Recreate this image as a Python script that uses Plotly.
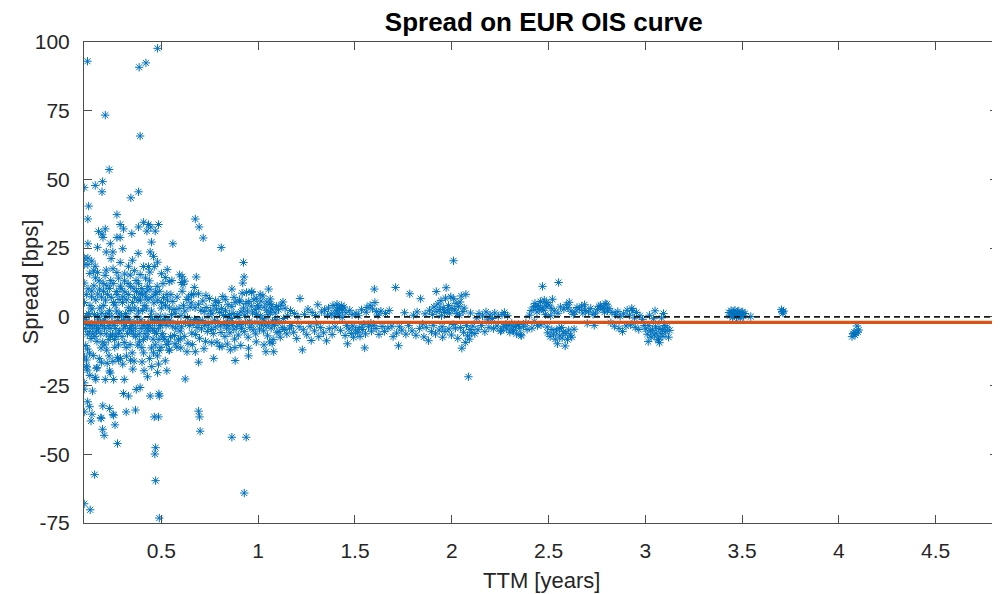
import plotly.graph_objects as go

# ---------------- data (ttm in years, spread in bps) ----------------
outliers_upper = [
    (0.48, 97.7), (0.118, 93.0), (0.385, 90.8), (0.42, 92.4), (0.21, 73.4), (0.39, 65.8),
    (0.23, 53.6), (0.196, 49.2), (0.158, 47.8), (0.101, 47.0), (0.193, 45.5), (0.382, 45.5),
    (0.342, 43.3), (0.124, 40.3), (0.12, 35.6), (0.27, 37.2), (0.287, 33.6), (0.304, 32.0),
    (0.408, 34.4), (0.382, 32.7), (0.433, 33.6), (0.445, 32.7), (0.485, 33.6), (0.175, 31.1),
    (0.21, 32.0), (0.193, 30.1), (0.198, 28.9), (0.27, 28.9), (0.287, 28.9), (0.347, 30.3),
    (0.425, 31.2), (0.468, 31.2), (0.449, 27.2), (0.236, 26.6), (0.12, 26.6), (0.215, 23.6),
    (0.249, 23.6), (0.442, 23.6), (0.459, 22.0), (0.101, 21.4), (0.12, 21.4), (0.101, 19.0),
    (0.12, 19.0), (0.287, 19.8), (0.158, 18.4), (0.33, 18.4), (0.15, 16.7), (0.215, 17.0),
    (0.408, 18.3), (0.433, 18.3), (0.463, 18.3), (0.13, 15.8), (0.17, 16.2), (0.25, 17.5),
    (0.27, 16.1), (0.31, 15.6), (0.36, 16.8), (0.39, 15.4), (0.44, 16.3), (0.5, 15.7),
    (0.53, 17.2), (0.14, 20.3), (0.24, 21.2), (0.35, 20.6), (0.48, 19.9), (0.52, 14.3),
    (0.38, 23.1), (0.3, 24.8), (0.17, 25.3), (0.54, 12.8),
]

outliers_lower = [
    (0.101, -24.0), (0.101, -26.3), (0.144, -27.0), (0.119, -30.9), (0.129, -32.7), (0.101, -34.6),
    (0.141, -35.4), (0.187, -36.7), (0.197, -32.4), (0.232, -33.3), (0.25, -35.5), (0.304, -27.9),
    (0.33, -28.8), (0.318, -34.6), (0.366, -33.9), (0.37, -26.4), (0.39, -25.7), (0.442, -28.8),
    (0.487, -28.0), (0.489, -28.8), (0.463, -36.4), (0.485, -36.4), (0.428, -21.8), (0.528, -19.6),
    (0.48, -20.3), (0.352, -19.0), (0.308, -22.8), (0.253, -22.8), (0.21, -22.8), (0.158, -22.0),
    (0.161, -22.8), (0.115, -18.2), (0.117, -19.4), (0.113, -15.7), (0.164, -18.7), (0.168, -18.5),
    (0.232, -19.7), (0.236, -20.4), (0.485, -17.2), (0.52, -16.0), (0.273, -14.7), (0.278, -15.7),
    (0.136, -37.9), (0.189, -36.9), (0.253, -35.8), (0.196, -40.9), (0.204, -43.1), (0.26, -39.3),
    (0.273, -46.1), (0.47, -47.6), (0.466, -49.9), (0.155, -57.4), (0.47, -59.6), (0.101, -68.0),
    (0.132, -70.2), (0.489, -73.2), (0.19, -16.5), (0.3, -17.2), (0.4, -16.4), (0.45, -18.1),
    (0.34, -15.8), (0.22, -16.9), (0.13, -21.3), (0.41, -19.6),
]

core_short = [
    (0.101, 12.3), (0.103, 5.2), (0.106, -0.9), (0.107, -4.2), (0.109, -10.4), (0.102, -14.6),
    (0.112, 8.1), (0.114, 0.4), (0.116, -2.8), (0.117, -6.3), (0.118, -11.7), (0.111, -17.9),
    (0.121, 10.2), (0.124, 1.2), (0.126, -2.1), (0.127, -5.4), (0.129, -13.2),
    (0.131, 4.1), (0.135, -3.2), (0.136, -7.9), (0.139, 7.3),
    (0.141, 9.4), (0.142, 2.9), (0.145, -4.1), (0.147, -6.2), (0.148, -14.1),
    (0.151, 11.3), (0.154, 0.8), (0.155, -2.3), (0.157, -7.1), (0.159, 14.2),
    (0.161, 6.2), (0.164, -3.3), (0.165, -5.2), (0.167, -8.9), (0.169, 0.3),
    (0.171, 8.3), (0.174, -1.1), (0.175, -4.3), (0.178, 13.1), (0.179, -15.2),
    (0.181, 10.1), (0.182, 3.2), (0.185, -2.2), (0.187, -6.1), (0.188, -11.3),
    (0.191, 7.2), (0.192, 1.3), (0.194, -3.1), (0.197, -9.2), (0.199, 12.2),
    (0.201, 9.3), (0.202, 4.1), (0.205, -1.2), (0.206, -4.1), (0.208, -10.2), (0.209, 15.1),
    (0.211, 6.1), (0.212, 0.2), (0.215, -6.2), (0.217, -12.1), (0.218, 11.3),
    (0.221, 8.2), (0.224, 1.1), (0.225, -3.2), (0.228, -8.3), (0.229, -14.2),
    (0.231, 10.3), (0.232, 2.2), (0.235, -4.2), (0.237, -7.1), (0.238, 13.2),
    (0.241, 7.1), (0.244, 0.2), (0.245, -2.1), (0.247, -6.3), (0.249, -16.2),
    (0.251, 12.1), (0.252, 5.2), (0.255, -3.1), (0.258, -8.2), (0.259, -11.1),
    (0.261, 4.3), (0.264, -4.2), (0.265, -7.1), (0.267, 9.2), (0.269, 2.1),
    (0.271, 8.1), (0.274, -1.3), (0.277, -6.1), (0.278, -10.2), (0.279, 14.1),
    (0.281, 6.3), (0.282, 1.1), (0.285, -5.1), (0.288, 11.2), (0.289, -15.1),
    (0.291, 10.2), (0.294, 0.3), (0.295, -2.1), (0.297, -7.2), (0.299, 5.2),
    (0.301, 7.3), (0.304, -1.2), (0.305, -4.1), (0.308, -9.3), (0.309, 13.1),
    (0.311, 9.1), (0.314, 1.2), (0.315, -3.1), (0.318, -11.1), (0.319, -14.3),
    (0.321, 6.2), (0.322, 0.1), (0.325, -6.1), (0.328, 12.1), (0.329, 3.3),
]

core_mid = [
    (0.331, 8.1), (0.334, -1.1), (0.335, -4.3), (0.338, -10.1), (0.339, 15.2),
    (0.341, 11.1), (0.342, 2.3), (0.345, -3.2), (0.347, -5.1), (0.349, -13.1),
    (0.351, 5.2), (0.354, -2.1), (0.355, -6.3), (0.358, 10.2), (0.359, -16.1),
    (0.361, 7.1), (0.362, 3.2), (0.365, -4.1), (0.367, -7.2), (0.369, 13.2),
    (0.371, 9.2), (0.374, 0.2), (0.375, -2.1), (0.378, -10.3), (0.379, 6.1),
    (0.381, 12.2), (0.382, 2.1), (0.385, -6.2), (0.387, -9.1), (0.389, 8.3),
    (0.391, 6.1), (0.394, -1.1), (0.395, -4.2), (0.398, 10.3), (0.399, -11.2),
    (0.401, 8.2), (0.403, 2.3), (0.405, -3.2), (0.407, -8.2), (0.408, -13.1),
    (0.411, 4.1), (0.414, -2.3), (0.415, -6.1), (0.418, 14.1), (0.419, 7.2),
    (0.421, 9.1), (0.422, 3.2), (0.425, -4.1), (0.427, -7.3), (0.429, 11.1),
    (0.431, 6.2), (0.434, -3.2), (0.435, -5.1), (0.438, 13.1), (0.439, -15.2),
    (0.441, 10.1), (0.444, 0.1), (0.445, -2.2), (0.448, -11.3), (0.449, 2.1),
    (0.451, 7.2), (0.454, -1.1), (0.455, -4.3), (0.457, -8.1), (0.459, -13.1),
    (0.461, 5.1), (0.464, -2.1), (0.465, -5.2), (0.468, -10.2), (0.469, 9.1),
    (0.471, 8.2), (0.472, 0.1), (0.475, -6.1), (0.478, 11.1), (0.479, -14.2),
    (0.481, 6.1), (0.484, -1.3), (0.485, -4.1), (0.487, -8.2), (0.489, -12.2),
    (0.491, 9.3), (0.494, 0.2), (0.495, -3.1), (0.498, -11.1), (0.499, 3.2),
    (0.501, 5.2), (0.504, -2.2), (0.505, -6.1), (0.508, 12.1), (0.509, -7.3),
    (0.511, 7.1), (0.514, -1.1), (0.517, -8.1), (0.519, 0.1),
    (0.521, 4.2), (0.524, -3.1), (0.527, -10.1), (0.528, 8.2),
    (0.531, 6.1), (0.534, -2.1), (0.537, -9.1), (0.539, -12.1),
    (0.541, 3.2), (0.544, -1.2), (0.547, -7.2), (0.549, 8.1),
]

band_one_year = [
    (0.552, 0.8), (0.556, -3.4), (0.559, 5.6), (0.565, 2.7), (0.568, -6.8),
    (0.571, 1.3), (0.574, -4.1), (0.581, 7.2), (0.584, -2.3), (0.588, -8.4),
    (0.591, 3.1), (0.597, -5.2), (0.601, 0.4), (0.604, -3.6), (0.607, 9.3),
    (0.614, 4.2), (0.618, -7.1), (0.621, 2.1), (0.624, -2.2),
    (0.631, 6.3), (0.634, -0.3), (0.637, -9.6), (0.644, -3.2), (0.648, 3.5),
    (0.651, -1.8), (0.654, 5.1), (0.657, -5.9), (0.664, -2.6), (0.667, 8.2),
    (0.671, -0.9), (0.674, 3.3), (0.677, -6.4), (0.684, -3.9), (0.688, -1.1),
    (0.691, 4.6), (0.694, -2.4), (0.697, -7.8), (0.704, 2.4), (0.707, -4.4),
    (0.711, -1.3), (0.714, 5.8), (0.721, 1.9), (0.724, -3.1), (0.728, -8.9),
    (0.731, 3.4), (0.737, -5.3), (0.741, 0.1), (0.744, -2.9), (0.748, 6.7),
    (0.754, 2.2), (0.758, -4.6), (0.761, 1.1), (0.768, -6.1),
    (0.771, 4.1), (0.774, -1.2), (0.778, -3.7), (0.784, 2.8), (0.787, -9.2),
    (0.791, -1.9), (0.794, 5.2), (0.801, 1.6), (0.804, -3.3), (0.808, -5.7),
    (0.811, 3.1), (0.817, 7.4), (0.821, 0.5), (0.824, -2.7), (0.828, -7.2),
    (0.831, 2.2), (0.837, -4.1), (0.841, -1.5), (0.844, 4.4), (0.848, -3.2),
    (0.851, 0.9), (0.854, -5.8), (0.861, -0.6), (0.864, 3.7), (0.867, -2.4),
    (0.871, 1.2), (0.874, -4.5), (0.878, -8.1), (0.881, 5.3), (0.887, -3.6),
    (0.891, 0.7), (0.897, -6.6), (0.901, -0.2), (0.904, 6.1), (0.907, -2.8),
    (0.911, 1.8), (0.914, -4.2), (0.917, 8.6), (0.924, 3.2), (0.928, -5.4),
    (0.931, 0.6), (0.934, -2.2), (0.937, 4.9), (0.944, 2.1), (0.948, -7.4),
    (0.951, 5.6), (0.954, -1.6), (0.957, -3.8), (0.964, 3.9), (0.967, -2.5),
    (0.971, 1.4), (0.974, -4.7), (0.978, 6.2), (0.984, 2.6), (0.987, -6.2),
    (0.991, 0.9), (0.994, -2.1), (0.997, 4.1), (1.004, 3.3), (1.007, -4.4),
    (1.011, 0.4), (1.014, 5.7), (1.018, -2.9), (1.024, -0.7), (1.028, -5.1),
    (1.031, 3.6), (1.034, -1.8), (1.041, -3.3), (1.044, 2.4), (1.048, -6.9),
    (1.051, 0.8), (1.054, -2.4), (1.057, 4.6), (1.064, 1.7), (1.067, -4.1),
    (1.071, 2.9), (1.074, -1.6), (1.077, -8.2), (1.084, -3.1), (1.088, 1.4),
    (1.091, -1.1), (1.094, 3.8), (1.097, -5.6),
]

scatter_one_year = [
    (0.675, 35.6), (0.695, 32.7), (0.716, 28.7), (0.809, 25.2), (0.924, 19.8), (0.927, 14.5),
    (0.92, 12.3), (0.68, 14.5), (0.554, 13.2), (0.594, 15.3), (0.62, 13.0), (0.67, 10.7),
    (0.692, 8.4), (0.864, 10.1), (0.967, 9.2), (1.054, 10.1), (1.024, 7.6), (1.062, 6.5),
    (0.559, 26.6), (0.542, -12.1), (0.623, -22.6), (0.632, -12.7), (0.675, -12.7), (0.692, -16.5),
    (0.77, -15.1), (0.881, -15.9), (0.95, -14.2), (0.95, -11.4), (1.04, -12.7), (1.08, -12.7),
    (1.072, -9.6), (0.692, -34.3), (0.697, -36.4), (0.70, -41.6), (0.864, -43.8), (0.938, -43.8),
    (0.928, -64.1), (0.597, -8.0), (0.58, -11.0), (0.603, 12.5), (0.607, 14.6), (0.612, 11.8),
    (0.64, 7.2), (0.655, 8.1), (0.73, 7.8), (0.78, 5.9), (0.83, 6.4), (0.875, 7.1), (0.905, 5.5),
    (0.99, 6.8), (1.01, 8.2), (1.045, 5.4), (0.57, -9.8), (0.6, -11.3), (0.66, -10.1),
    (0.72, -11.6), (0.76, -9.4), (0.8, -10.7), (0.84, -9.9), (0.91, -10.4), (0.99, -9.1),
    (1.03, -10.2), (1.06, -9.1), (0.813, -10.8), (0.856, -12.0), (0.88, -11.2), (0.94, 8.9),
    (0.966, 8.9), (1.07, 4.4),
]

band_one_to_two = [
    (1.102, -2.1), (1.105, 2.6), (1.108, -5.3), (1.114, -7.4), (1.117, 4.2),
    (1.124, -3.8), (1.128, 5.4), (1.131, -0.6), (1.135, -4.6), (1.139, 3.1),
    (1.148, -6.2), (1.152, 0.4), (1.162, -4.1), (1.167, 2.3), (1.172, -3.2),
    (1.183, -5.6), (1.188, 1.2), (1.199, -7.9), (1.205, 0.1), (1.211, -3.6), (1.216, 6.7),
    (1.228, -12.0), (1.233, -4.7), (1.239, 0.9), (1.251, -6.5), (1.257, 2.8),
    (1.268, -3.4), (1.274, -8.6), (1.279, 1.6), (1.291, -5.1), (1.296, 0.5),
    (1.302, -2.6), (1.308, 4.4), (1.313, -7.2), (1.323, -3.9), (1.328, 1.8),
    (1.338, -5.8), (1.343, 2.6), (1.353, -8.7), (1.358, 0.6), (1.363, 3.2), (1.367, -4.3),
    (1.377, 1.1), (1.382, -6.4), (1.386, 4.1), (1.393, 0.3), (1.397, -3.7),
    (1.401, 2.2), (1.407, 4.6), (1.410, 1.4), (1.413, 3.3), (1.419, 0.7),
    (1.422, 2.9), (1.425, -4.9), (1.431, 4.1), (1.434, -0.2), (1.437, 2.5),
    (1.443, 3.6), (1.449, -6.8), (1.453, 1.5), (1.457, -3.1), (1.461, -9.8),
    (1.469, -4.4), (1.473, 2.4), (1.481, -6.1), (1.485, 0.8), (1.489, -3.3), (1.493, -7.4),
    (1.502, -4.8), (1.506, 1.3), (1.514, -5.6), (1.518, 0.4), (1.522, -3.9),
    (1.526, -7.1), (1.534, 2.6), (1.538, -4.6), (1.546, -2.7), (1.550, -11.3),
    (1.554, -6.2), (1.558, 1.7), (1.562, 3.4), (1.570, -3.6), (1.578, 4.2),
    (1.582, -2.3), (1.585, -5.2), (1.591, 2.9), (1.597, -3.1), (1.600, 10.1),
    (1.603, 5.2), (1.609, -4.2), (1.612, 1.9), (1.619, 0.6), (1.624, -6.4),
    (1.634, 2.1), (1.640, -3.5), (1.652, -5.3), (1.658, 1.2),
    (1.670, -4.1), (1.677, 2.3), (1.691, -3.4), (1.697, -7.2), (1.710, 10.7),
    (1.715, -5.9), (1.725, -10.5), (1.729, -3.6), (1.742, -4.8),
    (1.756, 1.5), (1.763, -6.3), (1.777, -3.2), (1.783, 8.4), (1.795, -5.1),
    (1.802, 0.6), (1.815, -6.7), (1.821, 1.8), (1.834, -4.2), (1.839, 6.6),
    (1.850, -2.6), (1.856, -7.3), (1.862, 1.1), (1.868, -3.8), (1.880, -8.7),
    (1.885, 2.4), (1.895, -5.4),
]

band_two_years = [
    (1.900, 0.8), (1.904, -3.1), (1.908, 3.6), (1.916, -6.2), (1.920, 9.2), (1.923, 1.9),
    (1.929, 4.7), (1.935, -4.8), (1.938, 2.7), (1.944, 5.9),
    (1.947, 0.4), (1.950, -3.6), (1.953, -7.4), (1.956, 3.3), (1.962, 1.6), (1.965, -5.3),
    (1.968, 6.8), (1.971, 10.6), (1.977, 2.4), (1.983, 4.1), (1.986, -4.4),
    (1.989, 1.3), (1.995, 7.3), (1.998, -6.6), (2.001, 3.1), (2.007, -2.8),
    (2.009, 20.4), (2.010, 6.6), (2.016, 2.5), (2.019, -4.1), (2.022, 4.9),
    (2.028, 1.1), (2.031, -7.8), (2.034, 3.7), (2.040, 0.6), (2.043, 5.4), (2.046, -3.9),
    (2.049, 7.6), (2.052, -11.4), (2.058, 1.9), (2.061, -5.6), (2.064, 3.2),
    (2.070, -9.3), (2.073, 8.2), (2.076, -3.2), (2.082, -6.9), (2.086, -21.8),
    (2.091, -8.1), (2.094, -4.6), (2.097, 1.4), (2.101, -5.8), (2.109, -3.4),
    (2.119, -6.1), (2.129, -0.4), (2.135, -4.7), (2.141, 1.2), (2.153, -3.1),
    (2.159, 0.3), (2.171, -5.4), (2.177, 1.8), (2.186, -1.1), (2.192, -3.8),
    (2.198, 0.7), (2.210, -0.6), (2.216, -4.3), (2.222, 1.4), (2.234, -3.3),
    (2.240, 0.2), (2.252, -5.2), (2.256, -4.9), (2.260, 0.9), (2.268, -3.6),
    (2.272, 1.6), (2.280, -2.7), (2.284, -4.4), (2.288, 0.4), (2.296, -3.1),
    (2.300, -5.6), (2.310, -2.4), (2.315, -4.7), (2.319, -5.1), (2.329, -3.5),
    (2.334, -6.2), (2.345, -2.8), (2.351, -4.1), (2.356, -6.4), (2.359, -6.9),
    (2.371, -3.4), (2.383, -2.2), (2.389, -4.6),
]

band_two_half_years = [
    (2.402, 0.6), (2.410, 2.3), (2.414, -4.1), (2.422, 3.6), (2.426, -1.7),
    (2.430, 4.9), (2.434, 3.7), (2.440, 1.8), (2.443, -3.2), (2.446, 4.2),
    (2.452, 2.7), (2.458, 5.6), (2.461, -2.9), (2.467, 3.2), (2.469, 11.1),
    (2.475, 2.4), (2.478, 6.1), (2.484, 0.8), (2.487, 3.9), (2.490, 5.2),
    (2.493, -3.7), (2.496, -5.8), (2.502, 4.3), (2.508, -7.2), (2.511, 0.4),
    (2.514, 3.1), (2.517, -4.6), (2.520, 6.4), (2.526, -6.3), (2.529, 2.2),
    (2.535, -8.1), (2.541, -5.1), (2.546, -9.8), (2.549, 1.3), (2.552, 12.5),
    (2.555, -4.2), (2.558, -6.9), (2.561, 3.6), (2.567, -3.9), (2.570, -7.7),
    (2.576, -5.4), (2.579, 2.8), (2.586, -10.6), (2.589, -6.1), (2.592, 4.4),
    (2.598, -8.3), (2.601, 3.3), (2.604, -4.8), (2.607, 5.3), (2.613, -6.7), (2.616, 2.1),
    (2.620, -7.4), (2.628, 0.9), (2.632, -4.5), (2.637, 1.7), (2.647, 3.4),
    (2.659, 2.8), (2.671, 3.9), (2.677, 1.4), (2.686, 4.4),
    (2.690, 2.3), (2.700, -2.4), (2.706, 1.8), (2.718, 3.1),
    (2.730, 0.9), (2.736, -3.1), (2.742, 1.4), (2.754, 2.6), (2.760, 3.8),
    (2.769, 4.2), (2.777, 2.9), (2.785, 3.5), (2.789, 1.7), (2.793, 4.8),
    (2.801, 4.6), (2.805, 2.2), (2.813, 3.1), (2.822, -2.1),
    (2.828, 1.6), (2.840, -3.4), (2.846, 0.8),
]

band_three_years = [
    (2.858, 1.9), (2.864, -4.2), (2.870, 0.2), (2.882, -5.3), (2.888, 1.1),
    (2.900, -3.3), (2.906, 2.4), (2.918, 0.6), (2.924, -2.9), (2.930, 3.1),
    (2.936, 2.2), (2.944, -0.4), (2.948, -3.8), (2.954, 1.6), (2.966, -4.6),
    (2.972, 0.4), (2.986, -0.9), (2.994, -3.1), (3.002, -4.4), (3.010, -6.3),
    (3.015, -9.0), (3.018, -3.2), (3.022, 0.6), (3.026, -5.1), (3.030, -7.4), (3.038, -4.8),
    (3.042, -0.7), (3.046, -6.6), (3.050, 2.2), (3.053, -3.6), (3.056, -5.9), (3.064, -8.1),
    (3.068, -8.4), (3.071, -4.2), (3.073, -9.4), (3.080, -6.2), (3.084, -0.4), (3.088, -4.6),
    (3.091, -7.1), (3.094, 1.2), (3.098, -3.1), (3.103, -5.4), (3.112, -3.8), (3.120, -7.4),
    (3.126, -4.9),
]

long_end = [
    (3.432, 1.6), (3.438, 0.4), (3.443, 2.3), (3.447, 1.1), (3.451, -0.3), (3.455, 1.9), (3.459, 0.7),
    (3.463, 2.4), (3.467, 1.3), (3.471, -0.1), (3.475, 1.7), (3.479, 0.5), (3.483, 2.1), (3.487, 1.0),
    (3.491, -0.4), (3.495, 1.5), (3.499, 0.6), (3.503, 1.8), (3.508, 0.2), (3.515, 1.2), (3.545, 0.1),
    (3.703, 2.6), (3.707, 1.9), (3.711, 1.4), (3.714, 2.1),
    (4.068, -7.2), (4.074, -6.1), (4.079, -5.6), (4.083, -6.6), (4.088, -5.9), (4.093, -3.3), (4.098, -5.5),
    (4.102, -4.8),
]

mean_spread = -2.0
ttm_limits = [0.1, 4.822]
spread_limits = [-75, 100]
x_tick_values = [0.5, 1, 1.5, 2, 2.5, 3, 3.5, 4, 4.5]
x_tick_labels = ["0.5", "1", "1.5", "2", "2.5", "3", "3.5", "4", "4.5"]
y_tick_values = [-75, -50, -25, 0, 25, 50, 75, 100]
y_tick_labels = ["-75", "-50", "-25", "0", "25", "50", "75", "100"]

# ---------------- figure ----------------
all_points = (outliers_upper + outliers_lower + core_short + core_mid + band_one_year
              + scatter_one_year + band_one_to_two + band_two_years + band_two_half_years
              + band_three_years + long_end)
ttm = [p[0] for p in all_points]
spread = [p[1] for p in all_points]

blue = "#0072BD"
fig = go.Figure()
fig.add_trace(go.Scatter(
    x=ttm, y=spread, mode="markers",
    marker=dict(symbol="asterisk-open", size=7, color=blue, line=dict(width=1, color=blue)),
    showlegend=False, hoverinfo="x+y",
))
fig.add_trace(go.Scatter(
    x=ttm_limits, y=[mean_spread, mean_spread], mode="lines",
    line=dict(color="#D95319", width=3.2), showlegend=False,
))
fig.add_trace(go.Scatter(
    x=ttm_limits, y=[0, 0], mode="lines",
    line=dict(color="#1a1a1a", width=1.8, dash="6px,4px"), showlegend=False,
))

# the page body adds an 8px offset, so the figure is 992x586 drawn at (8, 8)
FIG_W, FIG_H = 992, 586
M_L, M_R, M_T, M_B = 76, 2, 34, 71
plot_w = FIG_W - M_L - M_R
plot_h = FIG_H - M_T - M_B

font_family = "Liberation Sans, Arial, sans-serif"
axis_font = dict(family=font_family, size=21, color="#262626")
label_font = dict(family=font_family, size=22, color="#262626")
fig.update_layout(
    width=FIG_W, height=FIG_H,
    margin=dict(l=M_L, r=M_R, t=M_T, b=M_B, autoexpand=False),
    paper_bgcolor="white", plot_bgcolor="white",
    title=dict(text="<b>Spread on EUR OIS curve</b>", x=0.503, xanchor="center",
               xref="paper", yref="container", y=1 - 14 / FIG_H, yanchor="middle",
               font=dict(family=font_family, size=26, color="black")),
    font=axis_font,
    annotations=[
        dict(text="TTM [years]", xref="paper", yref="paper", x=0.5, y=-57 / plot_h,
             xanchor="center", yanchor="middle", showarrow=False, font=label_font),
        dict(text="Spread [bps]", xref="paper", yref="paper", x=-54 / plot_w, y=0.5,
             xanchor="center", yanchor="middle", textangle=-90, showarrow=False, font=label_font),
    ],
)
fig.update_xaxes(
    range=ttm_limits, tickvals=x_tick_values, ticktext=x_tick_labels,
    ticks="inside", ticklen=8, tickcolor="#4d4d4d", tickwidth=1,
    showline=True, linecolor="#4d4d4d", linewidth=1, mirror="ticks",
    showgrid=False, zeroline=False, tickfont=axis_font, ticklabelstandoff=9,
    automargin=False,
)
fig.update_yaxes(
    range=spread_limits, tickvals=y_tick_values, ticktext=y_tick_labels,
    ticks="inside", ticklen=8, tickcolor="#4d4d4d", tickwidth=1,
    showline=True, linecolor="#4d4d4d", linewidth=1, mirror="ticks",
    showgrid=False, zeroline=False, tickfont=axis_font, ticklabelstandoff=9,
    automargin=False,
)

fig.write_html("out.html")
